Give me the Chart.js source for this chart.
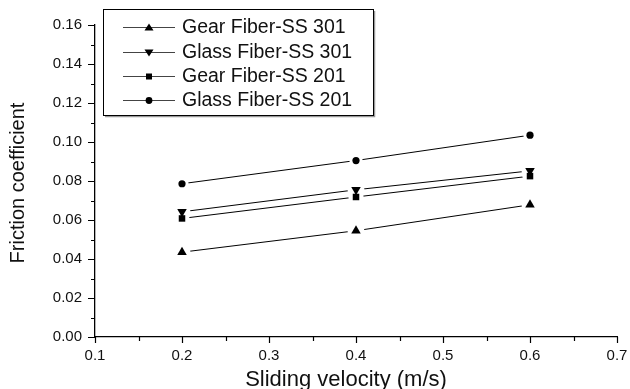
<!DOCTYPE html>
<html>
<head>
<meta charset="utf-8">
<script src="https://cdn.jsdelivr.net/npm/chart.js@4/dist/chart.umd.min.js"></script>
<style>
  html,body{margin:0;padding:0;background:#fff;}
  canvas{display:block;}
</style>
</head>
<body>
<canvas id="chart" width="630" height="389"></canvas>
<script>
// friction coefficient vs sliding velocity, 4 fiber/steel pairs
const velocity = [0.2, 0.4, 0.6];
const gear301  = [0.0435, 0.0545, 0.0678];
const glass301 = [0.0642, 0.0755, 0.0852];
const gear201  = [0.0608, 0.0718, 0.0825];
const glass201 = [0.0786, 0.0905, 0.1035];

const seriesLabels = ['Gear Fiber-SS 301','Glass Fiber-SS 301','Gear Fiber-SS 201','Glass Fiber-SS 201'];
const xTicks = [0.1, 0.2, 0.3, 0.4, 0.5, 0.6, 0.7];
const yTicks = [0, 0.02, 0.04, 0.06, 0.08, 0.10, 0.12, 0.14, 0.16];
const xTitle = 'Sliding velocity (m/s)';
const yTitle = 'Friction coefficient';

const FONT = 'Arial, "Liberation Sans", sans-serif';

const styles = [
  {pointStyle:'triangle', rotation:0,   radius:5.5},
  {pointStyle:'triangle', rotation:180, radius:5.5},
  {pointStyle:'rect',     rotation:0,   radius:4.6},
  {pointStyle:'circle',   rotation:0,   radius:3.6}
];
const allSeries = [gear301, glass301, gear201, glass201];

const datasets = allSeries.map((s,i)=>({
  label: seriesLabels[i],
  data: velocity.map((v,j)=>({x:v, y:s[j]})),
  borderColor:'#000', backgroundColor:'#000', borderWidth:1,
  pointStyle: styles[i].pointStyle, pointRotation: styles[i].rotation,
  pointRadius: styles[i].radius, pointBorderWidth:0,
  pointBackgroundColor:'#000', tension:0
}));

// white gap round each marker, Origin style
const haloPlugin = {
  id:'halo',
  afterDatasetsDraw(chart){
    const ctx = chart.ctx;
    ctx.save();
    ctx.fillStyle = '#fff';
    chart.data.datasets.forEach((d,i)=>{
      chart.getDatasetMeta(i).data.forEach(el=>{
        ctx.beginPath();
        ctx.arc(el.x, el.y, el.options.radius + 3, 0, Math.PI*2);
        ctx.fill();
      });
    });
    ctx.restore();
    chart.data.datasets.forEach((d,i)=>{
      chart.getDatasetMeta(i).data.forEach(el=>el.draw(ctx, chart.chartArea));
    });
  }
};

// major/minor tick marks (outward) + axis titles
const axesPlugin = {
  id:'axesExtra',
  afterDraw(chart){
    const ctx = chart.ctx, xs = chart.scales.x, ys = chart.scales.y;
    const a = chart.chartArea;
    ctx.save();
    ctx.strokeStyle = '#000';
    ctx.lineWidth = 1.2;
    ctx.beginPath();
    for(let i=0;i<=16;i++){
      const y = Math.round(ys.getPixelForValue(i*0.01)) + 0.5;
      const len = i%2===0 ? 7 : 4;
      ctx.moveTo(a.left - len, y); ctx.lineTo(a.left, y);
    }
    for(let i=0;i<=12;i++){
      const x = Math.round(xs.getPixelForValue(0.1 + i*0.05)) + 0.5;
      const len = i%2===0 ? 6 : 4;
      ctx.moveTo(x, a.bottom); ctx.lineTo(x, a.bottom + len);
    }
    ctx.stroke();

    ctx.fillStyle = '#111';
    ctx.textAlign = 'center';
    ctx.textBaseline = 'middle';
    ctx.font = '22px ' + FONT;
    ctx.fillText(xTitle, (a.left + a.right)/2 - 10, 380);
    ctx.translate(18, (a.top + a.bottom)/2 + 2);
    ctx.rotate(-Math.PI/2);
    ctx.font = '20px ' + FONT;
    ctx.fillText(yTitle, 0, 0);
    ctx.restore();
  }
};

function drawMarker(ctx, style, x, y){
  ctx.beginPath();
  if(style.pointStyle==='circle'){
    ctx.arc(x, y, 3.4, 0, Math.PI*2);
  }else if(style.pointStyle==='rect'){
    ctx.rect(x-3, y-3, 6, 6);
  }else{
    const s = style.rotation ? -1 : 1;
    ctx.moveTo(x, y - 4*s); ctx.lineTo(x + 4.5, y + 3*s); ctx.lineTo(x - 4.5, y + 3*s);
    ctx.closePath();
  }
  ctx.fill();
}

const legendPlugin = {
  id:'boxLegend',
  afterDraw(chart){
    const ctx = chart.ctx;
    const bx = 103.5, by = 9.5, bw = 270, bh = 106;
    ctx.save();
    ctx.strokeStyle = '#999'; ctx.lineWidth = 1.5;
    ctx.beginPath();
    ctx.moveTo(bx+1.5, by+bh+1); ctx.lineTo(bx+bw+1, by+bh+1); ctx.lineTo(bx+bw+1, by+1.5);
    ctx.stroke();
    ctx.strokeStyle = '#000'; ctx.lineWidth = 1;
    ctx.strokeRect(bx, by, bw, bh);
    const rows = [27, 52, 76, 100];
    ctx.font = '19.5px ' + FONT;
    ctx.textBaseline = 'middle';
    ctx.textAlign = 'left';
    chart.data.datasets.forEach((d,i)=>{
      const y = rows[i];
      ctx.strokeStyle = '#444'; ctx.lineWidth = 1;
      ctx.beginPath(); ctx.moveTo(123, y+0.5); ctx.lineTo(175, y+0.5); ctx.stroke();
      ctx.fillStyle = '#000';
      drawMarker(ctx, styles[i], 149, y+0.5);
      ctx.fillStyle = '#111';
      ctx.fillText(d.label, 182, y+1);
    });
    ctx.restore();
  }
};

new Chart(document.getElementById('chart').getContext('2d'), {
  type:'line',
  data:{datasets},
  options:{
    responsive:false, animation:false,
    layout:{padding:{top:25, right:13, left:0, bottom:0}},
    plugins:{legend:{display:false}, tooltip:{enabled:false}},
    scales:{
      x:{
        type:'linear', min:xTicks[0], max:xTicks[xTicks.length-1],
        afterFit(s){ s.height = 52; s.paddingLeft = 0; s.paddingRight = 0; },
        afterBuildTicks(s){ s.ticks = xTicks.map(v=>({value:v})); },
        grid:{drawOnChartArea:false, drawTicks:false},
        border:{display:true, color:'#000', width:1.3},
        ticks:{padding:10, color:'#111', font:{family:FONT, size:15},
               callback:v=>v.toFixed(1)}
      },
      y:{
        type:'linear', min:yTicks[0], max:yTicks[yTicks.length-1],
        afterFit(s){ s.width = 95; s.paddingTop = 0; s.paddingBottom = 0; },
        afterBuildTicks(s){ s.ticks = yTicks.map(v=>({value:v})); },
        grid:{drawOnChartArea:false, drawTicks:false},
        border:{display:true, color:'#000', width:1.3},
        ticks:{padding:13, color:'#111', font:{family:FONT, size:15},
               callback:v=>v.toFixed(2)}
      }
    }
  },
  plugins:[haloPlugin, axesPlugin, legendPlugin]
});
</script>
</body>
</html>
